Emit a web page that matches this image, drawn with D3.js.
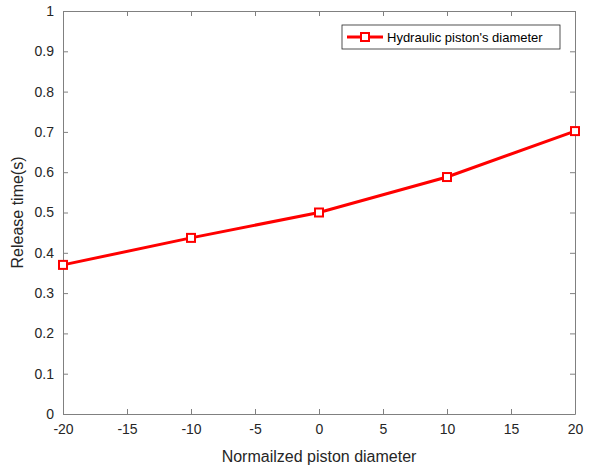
<!DOCTYPE html>
<html>
<head>
<meta charset="utf-8">
<script src="https://cdn.jsdelivr.net/npm/d3@7"></script>
<style>
	body { margin:0; background:#fff; }
	svg { font-family: Arial, "Liberation Sans", sans-serif; }
</style>
</head>
<body>
<svg id="chart" width="590" height="468"></svg>
<script>
var xValues = [-20, -10, 0, 10, 20];
var releaseTime = [0.37, 0.437, 0.5, 0.588, 0.702];
var xTicks = [-20, -15, -10, -5, 0, 5, 10, 15, 20];
var yTicks = [0, 0.1, 0.2, 0.3, 0.4, 0.5, 0.6, 0.7, 0.8, 0.9, 1];
var seriesName = "Hydraulic piston's diameter";

var margin = {top: 11, right: 15, bottom: 54, left: 63},
	width = 590 - margin.left - margin.right,
	height = 468 - margin.top - margin.bottom,
	axisColor = "#808080",
	textColor = "#262626";

var svg = d3.select("#chart");
var g = svg.append("g").attr("transform", "translate(" + margin.left + "," + margin.top + ")");

var x = d3.scaleLinear().domain([-20, 20]).range([0, width]);
var y = d3.scaleLinear().domain([0, 1]).range([height, 0]);

// axes, ticks pointing inward like matlab
function styleAxis(sel, hideText){
	sel.select(".domain").attr("stroke", axisColor).attr("stroke-width", 1);
	sel.selectAll(".tick line").attr("stroke", axisColor);
	sel.selectAll(".tick text").attr("fill", textColor).style("font-size", "14px");
	if(hideText) sel.selectAll(".tick text").remove();
}

g.append("g").attr("transform", "translate(0," + height + ")")
	.call(d3.axisBottom(x).tickValues(xTicks).tickSizeInner(-5).tickSizeOuter(0).tickPadding(10).tickFormat(function(d){ return String(d); }))
	.call(styleAxis);
g.append("g")
	.call(d3.axisTop(x).tickValues(xTicks).tickSizeInner(-5).tickSizeOuter(0))
	.call(function(s){ styleAxis(s, true); });
g.append("g")
	.call(d3.axisLeft(y).tickValues(yTicks).tickSizeInner(-5).tickSizeOuter(0).tickPadding(9).tickFormat(function(d){ return String(+d.toFixed(1)); }))
	.call(styleAxis);
g.append("g").attr("transform", "translate(" + width + ",0)")
	.call(d3.axisRight(y).tickValues(yTicks).tickSizeInner(-5).tickSizeOuter(0))
	.call(function(s){ styleAxis(s, true); });

// axis titles
g.append("text")
	.attr("x", width / 2).attr("y", height + 48)
	.attr("text-anchor", "middle").attr("fill", textColor)
	.style("font-size", "16px").text("Normailzed piston diameter");
g.append("text")
	.attr("transform", "translate(" + (-40) + "," + (height / 2) + ") rotate(-90)")
	.attr("text-anchor", "middle").attr("fill", textColor)
	.style("font-size", "16px").text("Release time(s)");

// line + markers
var data = xValues.map(function(d, i){ return {x: d, y: releaseTime[i]}; });
var line = d3.line().x(function(d){ return x(d.x); }).y(function(d){ return y(d.y); });

g.append("path").datum(data)
	.attr("fill", "none").attr("stroke", "#ff0000").attr("stroke-width", 3)
	.attr("d", line);

var ms = 8;
g.selectAll(".marker").data(data).enter().append("rect")
	.attr("class", "marker")
	.attr("x", function(d){ return x(d.x) - ms / 2; })
	.attr("y", function(d){ return y(d.y) - ms / 2; })
	.attr("width", ms).attr("height", ms)
	.attr("fill", "#fff").attr("stroke", "#ff0000").attr("stroke-width", 2);

// legend
var lg = g.append("g").attr("transform", "translate(" + (342 - margin.left) + "," + (25 - margin.top) + ")");
lg.append("rect").attr("width", 218).attr("height", 24)
	.attr("fill", "#fff").attr("stroke", "#262626").attr("stroke-width", 0.8);
lg.append("line").attr("x1", 5).attr("x2", 41).attr("y1", 12).attr("y2", 12)
	.attr("stroke", "#ff0000").attr("stroke-width", 3);
lg.append("rect").attr("x", 23 - ms / 2).attr("y", 12 - ms / 2).attr("width", ms).attr("height", ms)
	.attr("fill", "#fff").attr("stroke", "#ff0000").attr("stroke-width", 2);
lg.append("text").attr("x", 45).attr("y", 16.5)
	.attr("fill", "#000").style("font-size", "13px").text(seriesName);
</script>
</body>
</html>
